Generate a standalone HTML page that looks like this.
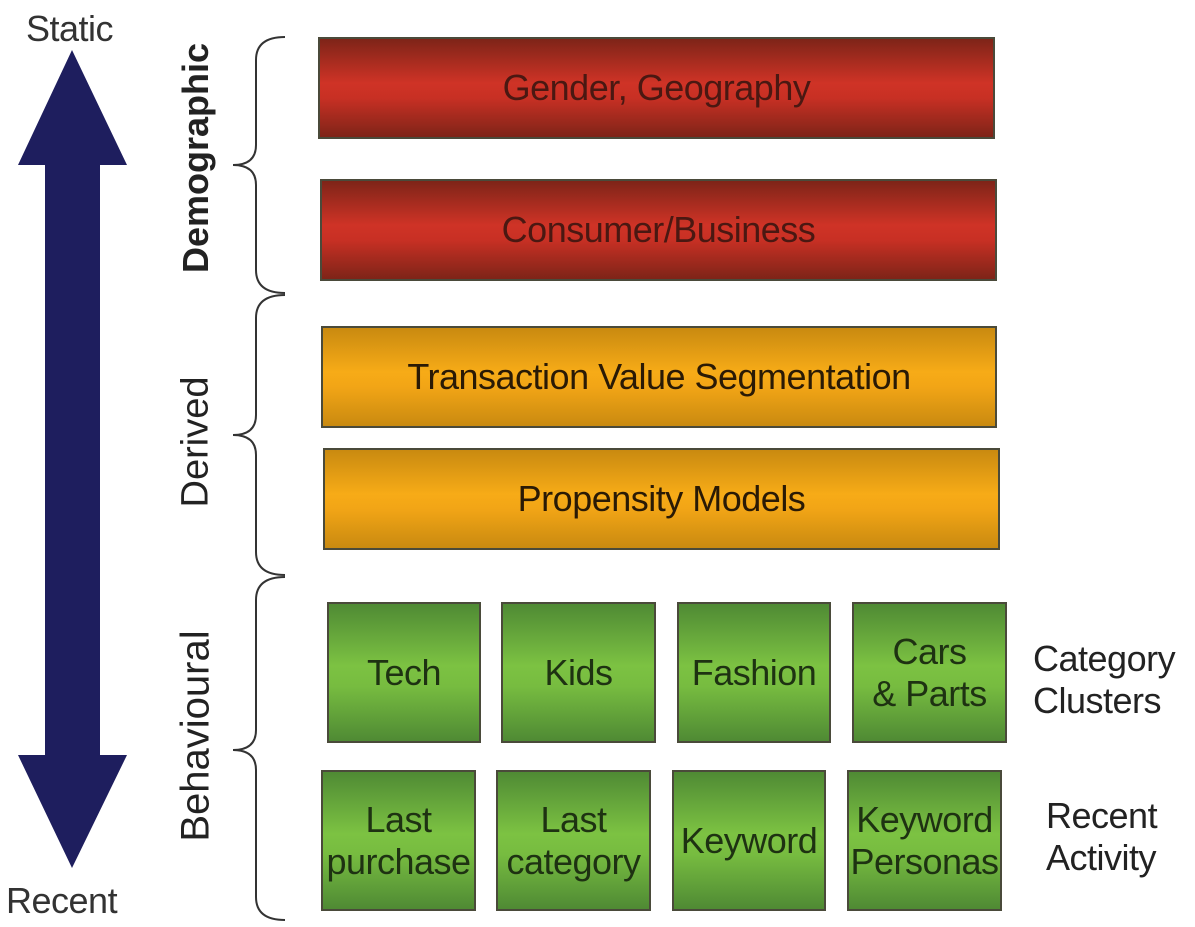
<!DOCTYPE html>
<html><head><style>
body{margin:0;width:1195px;height:927px;background:#fff;overflow:hidden;position:relative;font-family:"Liberation Sans",sans-serif;}
.b{position:absolute;box-sizing:border-box;border:2px solid #4a4a3a;display:flex;align-items:center;justify-content:center;text-align:center;font-size:36px;line-height:1.15;letter-spacing:-0.5px;}
.r{background:linear-gradient(#7e2418,#cf3326 45%,#c83024 60%,#7e2418);color:#4a1812;}
.o{background:linear-gradient(#c98a10,#f7ab17 45%,#f2a516 60%,#c98a10);color:#2a1a05;}
.g{background:linear-gradient(#4f8a34,#7cc242 45%,#77bc40 60%,#4f8a34);color:#1e3212;}
.t{position:absolute;font-size:36px;color:#333;line-height:1.17;letter-spacing:-0.5px;}
.v{position:absolute;transform:translate(-50%,-50%) rotate(-90deg);font-size:36px;color:#222;white-space:nowrap;}
</style></head><body>
<svg width="1195" height="927" style="position:absolute;left:0;top:0">
<polygon points="72,50 127,165 100,165 100,755 127,755 72,868 18,755 45,755 45,165 18,165" fill="#1e1e5e"/>
<g fill="none" stroke="#333" stroke-width="2">
<path d="M285,37 Q256,37 256,60 L256,145 Q256,165 233,165 Q256,165 256,185 L256,270 Q256,293 285,293"/>
<path d="M285,295 Q256,295 256,318 L256,415 Q256,435 233,435 Q256,435 256,455 L256,552 Q256,575 285,575"/>
<path d="M285,577 Q256,577 256,600 L256,730 Q256,750 233,750 Q256,750 256,770 L256,897 Q256,920 285,920"/>
</g></svg>
<div class="t" style="left:26px;top:8px">Static</div>
<div class="t" style="left:6px;top:880px">Recent</div>
<div class="v" style="left:196px;top:158px;font-weight:bold">Demographic</div>
<div class="v" style="left:196px;top:442px;font-size:38px">Derived</div>
<div class="v" style="left:196px;top:736px;font-size:40px">Behavioural</div>
<div class="b r" style="left:318px;top:37px;width:677px;height:102px">Gender, Geography</div>
<div class="b r" style="left:320px;top:179px;width:677px;height:102px">Consumer/Business</div>
<div class="b o" style="left:321px;top:326px;width:676px;height:102px">Transaction Value Segmentation</div>
<div class="b o" style="left:323px;top:448px;width:677px;height:102px">Propensity Models</div>
<div class="b g" style="left:327px;top:602px;width:154px;height:141px">Tech</div>
<div class="b g" style="left:501px;top:602px;width:155px;height:141px">Kids</div>
<div class="b g" style="left:677px;top:602px;width:154px;height:141px">Fashion</div>
<div class="b g" style="left:852px;top:602px;width:155px;height:141px">Cars<br>&amp; Parts</div>
<div class="b g" style="left:321px;top:770px;width:155px;height:141px">Last<br>purchase</div>
<div class="b g" style="left:496px;top:770px;width:155px;height:141px">Last<br>category</div>
<div class="b g" style="left:672px;top:770px;width:154px;height:141px">Keyword</div>
<div class="b g" style="left:847px;top:770px;width:155px;height:141px">Keyword<br>Personas</div>
<div class="t" style="left:1033px;top:638px;color:#222">Category<br>Clusters</div>
<div class="t" style="left:1046px;top:795px;color:#222">Recent<br>Activity</div>
</body></html>
